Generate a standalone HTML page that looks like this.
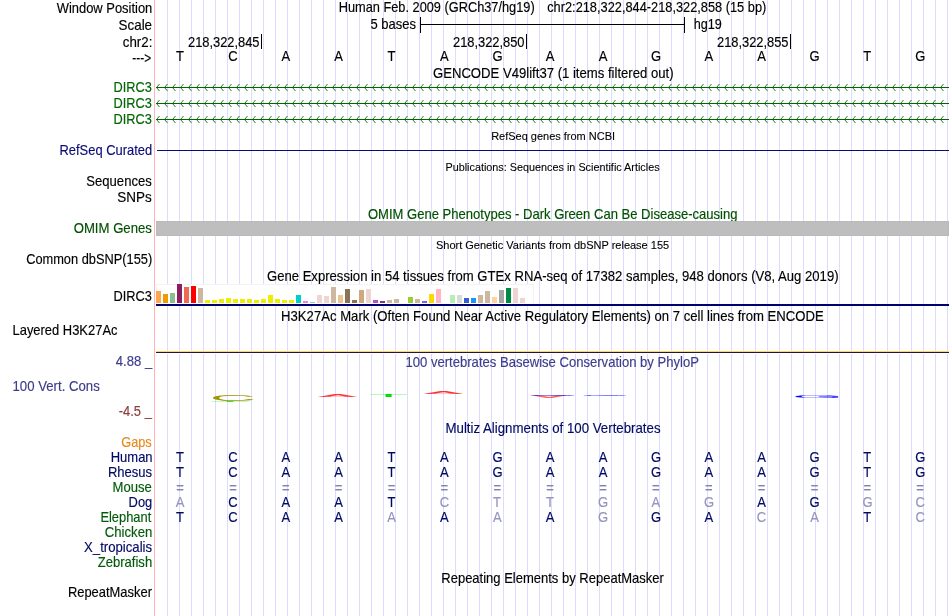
<!DOCTYPE html>
<html><head><meta charset="utf-8"><title>UCSC Genome Browser - hg19 chr2:218,322,844-218,322,858</title>
<style>html,body{margin:0;padding:0;background:#fff}svg{display:block}text{font-family:"Liberation Sans",sans-serif;font-size:14px;fill:#000;stroke:#000;stroke-width:.15px}.s{font-size:11px;stroke-width:.1px}.g{fill:#006400;stroke:#006400}.b{fill:#0c0c78;stroke:#0c0c78}.n{fill:#000a64;stroke:#000a64}.h{fill:#005a0a;stroke:#005a0a}.l{fill:#9494bf;stroke:#9494bf}.q{fill:#8484b0;stroke:#8484b0}.p{fill:#3c3c8c;stroke:#3c3c8c}.r{fill:#8c3c3c;stroke:#8c3c3c}.o{fill:#e68a1e;stroke:#e68a1e}.d{fill:#005000;stroke:#005000}.k{stroke:none}</style></head><body>
<svg width="950" height="616" viewBox="0 0 950 616" shape-rendering="crispEdges">
<rect width="950" height="616" fill="#fff"/>
<path d="M167.5 0V616M179.5 0V616M191.5 0V616M203.5 0V616M215.5 0V616M227.5 0V616M239.5 0V616M251.5 0V616M263.5 0V616M275.5 0V616M287.5 0V616M299.5 0V616M311.5 0V616M323.5 0V616M335.5 0V616M347.5 0V616M359.5 0V616M371.5 0V616M383.5 0V616M395.5 0V616M407.5 0V616M419.5 0V616M431.5 0V616M443.5 0V616M455.5 0V616M467.5 0V616M479.5 0V616M491.5 0V616M503.5 0V616M515.5 0V616M527.5 0V616M539.5 0V616M551.5 0V616M563.5 0V616M575.5 0V616M587.5 0V616M599.5 0V616M611.5 0V616M623.5 0V616M635.5 0V616M647.5 0V616M659.5 0V616M671.5 0V616M683.5 0V616M695.5 0V616M707.5 0V616M719.5 0V616M731.5 0V616M743.5 0V616M755.5 0V616M767.5 0V616M779.5 0V616M791.5 0V616M803.5 0V616M815.5 0V616M827.5 0V616M839.5 0V616M851.5 0V616M863.5 0V616M875.5 0V616M887.5 0V616M899.5 0V616M911.5 0V616M923.5 0V616M935.5 0V616M947.5 0V616" stroke="#dcdcff" stroke-width="1" fill="none"/>
<rect x="154" y="0" width="1" height="616" fill="#ffb4b4"/>
<rect x="156" y="353" width="793" height="1" fill="#fff"/>
<text transform="translate(56.69 12.9) scale(0.9251 1)">Window Position</text>
<text transform="translate(118.57 29.7) scale(0.9580 1)">Scale</text>
<text transform="translate(122.79 47.0) scale(0.9496 1)">chr2:</text>
<text transform="translate(132.33 62.8) scale(0.8553 1)">---&gt;</text>
<text transform="translate(338.71 12.0) scale(0.9136 1)">Human Feb. 2009 (GRCh37/hg19)</text>
<text transform="translate(547.20 12.0) scale(0.9143 1)">chr2:218,322,844-218,322,858 (15 bp)</text>
<text transform="translate(370.47 29.0) scale(0.9303 1)">5 bases</text>
<path d="M420.5 17V33M684.5 17V33M420 24.5H685" stroke="#000" fill="none"/>
<text transform="translate(693.70 29.0) scale(0.9034 1)">hg19</text>
<text transform="translate(187.98 47.0) scale(0.9198 1)">218,322,845</text>
<rect x="261" y="34" width="1" height="15" fill="#000"/>
<text transform="translate(452.98 47.0) scale(0.9198 1)">218,322,850</text>
<rect x="526" y="34" width="1" height="15" fill="#000"/>
<text transform="translate(716.98 47.0) scale(0.9198 1)">218,322,855</text>
<rect x="790" y="34" width="1" height="15" fill="#000"/>
<text transform="translate(175.92 61.1) scale(0.9300 1)">T</text>
<text transform="translate(228.24 61.1) scale(0.9300 1)">C</text>
<text transform="translate(281.46 61.1) scale(0.9300 1)">A</text>
<text transform="translate(334.36 61.1) scale(0.9300 1)">A</text>
<text transform="translate(387.42 61.1) scale(0.9300 1)">T</text>
<text transform="translate(440.06 61.1) scale(0.9300 1)">A</text>
<text transform="translate(492.42 61.1) scale(0.9300 1)">G</text>
<text transform="translate(545.86 61.1) scale(0.9300 1)">A</text>
<text transform="translate(598.66 61.1) scale(0.9300 1)">A</text>
<text transform="translate(651.02 61.1) scale(0.9300 1)">G</text>
<text transform="translate(704.46 61.1) scale(0.9300 1)">A</text>
<text transform="translate(757.26 61.1) scale(0.9300 1)">A</text>
<text transform="translate(809.62 61.1) scale(0.9300 1)">G</text>
<text transform="translate(863.22 61.1) scale(0.9300 1)">T</text>
<text transform="translate(915.32 61.1) scale(0.9300 1)">G</text>
<text transform="translate(432.95 77.9) scale(0.9378 1)">GENCODE V49lift37 (1 items filtered out)</text>
<text class="g" transform="translate(113.51 92.0) scale(0.9143 1)">DIRC3</text>
<path d="M156 87.5H949" stroke="#006400" fill="none"/>
<path d="M159.5 84L156.5 87.5L159.5 91M167.5 84L164.5 87.5L167.5 91M175.5 84L172.5 87.5L175.5 91M183.5 84L180.5 87.5L183.5 91M191.5 84L188.5 87.5L191.5 91M199.5 84L196.5 87.5L199.5 91M207.5 84L204.5 87.5L207.5 91M215.5 84L212.5 87.5L215.5 91M223.5 84L220.5 87.5L223.5 91M231.5 84L228.5 87.5L231.5 91M239.5 84L236.5 87.5L239.5 91M247.5 84L244.5 87.5L247.5 91M255.5 84L252.5 87.5L255.5 91M263.5 84L260.5 87.5L263.5 91M271.5 84L268.5 87.5L271.5 91M279.5 84L276.5 87.5L279.5 91M287.5 84L284.5 87.5L287.5 91M295.5 84L292.5 87.5L295.5 91M303.5 84L300.5 87.5L303.5 91M311.5 84L308.5 87.5L311.5 91M319.5 84L316.5 87.5L319.5 91M327.5 84L324.5 87.5L327.5 91M335.5 84L332.5 87.5L335.5 91M343.5 84L340.5 87.5L343.5 91M351.5 84L348.5 87.5L351.5 91M359.5 84L356.5 87.5L359.5 91M367.5 84L364.5 87.5L367.5 91M375.5 84L372.5 87.5L375.5 91M383.5 84L380.5 87.5L383.5 91M391.5 84L388.5 87.5L391.5 91M399.5 84L396.5 87.5L399.5 91M407.5 84L404.5 87.5L407.5 91M415.5 84L412.5 87.5L415.5 91M423.5 84L420.5 87.5L423.5 91M431.5 84L428.5 87.5L431.5 91M439.5 84L436.5 87.5L439.5 91M447.5 84L444.5 87.5L447.5 91M455.5 84L452.5 87.5L455.5 91M463.5 84L460.5 87.5L463.5 91M471.5 84L468.5 87.5L471.5 91M479.5 84L476.5 87.5L479.5 91M487.5 84L484.5 87.5L487.5 91M495.5 84L492.5 87.5L495.5 91M503.5 84L500.5 87.5L503.5 91M511.5 84L508.5 87.5L511.5 91M519.5 84L516.5 87.5L519.5 91M527.5 84L524.5 87.5L527.5 91M535.5 84L532.5 87.5L535.5 91M543.5 84L540.5 87.5L543.5 91M551.5 84L548.5 87.5L551.5 91M559.5 84L556.5 87.5L559.5 91M567.5 84L564.5 87.5L567.5 91M575.5 84L572.5 87.5L575.5 91M583.5 84L580.5 87.5L583.5 91M591.5 84L588.5 87.5L591.5 91M599.5 84L596.5 87.5L599.5 91M607.5 84L604.5 87.5L607.5 91M615.5 84L612.5 87.5L615.5 91M623.5 84L620.5 87.5L623.5 91M631.5 84L628.5 87.5L631.5 91M639.5 84L636.5 87.5L639.5 91M647.5 84L644.5 87.5L647.5 91M655.5 84L652.5 87.5L655.5 91M663.5 84L660.5 87.5L663.5 91M671.5 84L668.5 87.5L671.5 91M679.5 84L676.5 87.5L679.5 91M687.5 84L684.5 87.5L687.5 91M695.5 84L692.5 87.5L695.5 91M703.5 84L700.5 87.5L703.5 91M711.5 84L708.5 87.5L711.5 91M719.5 84L716.5 87.5L719.5 91M727.5 84L724.5 87.5L727.5 91M735.5 84L732.5 87.5L735.5 91M743.5 84L740.5 87.5L743.5 91M751.5 84L748.5 87.5L751.5 91M759.5 84L756.5 87.5L759.5 91M767.5 84L764.5 87.5L767.5 91M775.5 84L772.5 87.5L775.5 91M783.5 84L780.5 87.5L783.5 91M791.5 84L788.5 87.5L791.5 91M799.5 84L796.5 87.5L799.5 91M807.5 84L804.5 87.5L807.5 91M815.5 84L812.5 87.5L815.5 91M823.5 84L820.5 87.5L823.5 91M831.5 84L828.5 87.5L831.5 91M839.5 84L836.5 87.5L839.5 91M847.5 84L844.5 87.5L847.5 91M855.5 84L852.5 87.5L855.5 91M863.5 84L860.5 87.5L863.5 91M871.5 84L868.5 87.5L871.5 91M879.5 84L876.5 87.5L879.5 91M887.5 84L884.5 87.5L887.5 91M895.5 84L892.5 87.5L895.5 91M903.5 84L900.5 87.5L903.5 91M911.5 84L908.5 87.5L911.5 91M919.5 84L916.5 87.5L919.5 91M927.5 84L924.5 87.5L927.5 91M935.5 84L932.5 87.5L935.5 91M943.5 84L940.5 87.5L943.5 91" stroke="#006400" stroke-width=".85" fill="none" shape-rendering="geometricPrecision"/>
<text class="g" transform="translate(113.51 108.0) scale(0.9143 1)">DIRC3</text>
<path d="M156 103.5H949" stroke="#006400" fill="none"/>
<path d="M159.5 100L156.5 103.5L159.5 107M167.5 100L164.5 103.5L167.5 107M175.5 100L172.5 103.5L175.5 107M183.5 100L180.5 103.5L183.5 107M191.5 100L188.5 103.5L191.5 107M199.5 100L196.5 103.5L199.5 107M207.5 100L204.5 103.5L207.5 107M215.5 100L212.5 103.5L215.5 107M223.5 100L220.5 103.5L223.5 107M231.5 100L228.5 103.5L231.5 107M239.5 100L236.5 103.5L239.5 107M247.5 100L244.5 103.5L247.5 107M255.5 100L252.5 103.5L255.5 107M263.5 100L260.5 103.5L263.5 107M271.5 100L268.5 103.5L271.5 107M279.5 100L276.5 103.5L279.5 107M287.5 100L284.5 103.5L287.5 107M295.5 100L292.5 103.5L295.5 107M303.5 100L300.5 103.5L303.5 107M311.5 100L308.5 103.5L311.5 107M319.5 100L316.5 103.5L319.5 107M327.5 100L324.5 103.5L327.5 107M335.5 100L332.5 103.5L335.5 107M343.5 100L340.5 103.5L343.5 107M351.5 100L348.5 103.5L351.5 107M359.5 100L356.5 103.5L359.5 107M367.5 100L364.5 103.5L367.5 107M375.5 100L372.5 103.5L375.5 107M383.5 100L380.5 103.5L383.5 107M391.5 100L388.5 103.5L391.5 107M399.5 100L396.5 103.5L399.5 107M407.5 100L404.5 103.5L407.5 107M415.5 100L412.5 103.5L415.5 107M423.5 100L420.5 103.5L423.5 107M431.5 100L428.5 103.5L431.5 107M439.5 100L436.5 103.5L439.5 107M447.5 100L444.5 103.5L447.5 107M455.5 100L452.5 103.5L455.5 107M463.5 100L460.5 103.5L463.5 107M471.5 100L468.5 103.5L471.5 107M479.5 100L476.5 103.5L479.5 107M487.5 100L484.5 103.5L487.5 107M495.5 100L492.5 103.5L495.5 107M503.5 100L500.5 103.5L503.5 107M511.5 100L508.5 103.5L511.5 107M519.5 100L516.5 103.5L519.5 107M527.5 100L524.5 103.5L527.5 107M535.5 100L532.5 103.5L535.5 107M543.5 100L540.5 103.5L543.5 107M551.5 100L548.5 103.5L551.5 107M559.5 100L556.5 103.5L559.5 107M567.5 100L564.5 103.5L567.5 107M575.5 100L572.5 103.5L575.5 107M583.5 100L580.5 103.5L583.5 107M591.5 100L588.5 103.5L591.5 107M599.5 100L596.5 103.5L599.5 107M607.5 100L604.5 103.5L607.5 107M615.5 100L612.5 103.5L615.5 107M623.5 100L620.5 103.5L623.5 107M631.5 100L628.5 103.5L631.5 107M639.5 100L636.5 103.5L639.5 107M647.5 100L644.5 103.5L647.5 107M655.5 100L652.5 103.5L655.5 107M663.5 100L660.5 103.5L663.5 107M671.5 100L668.5 103.5L671.5 107M679.5 100L676.5 103.5L679.5 107M687.5 100L684.5 103.5L687.5 107M695.5 100L692.5 103.5L695.5 107M703.5 100L700.5 103.5L703.5 107M711.5 100L708.5 103.5L711.5 107M719.5 100L716.5 103.5L719.5 107M727.5 100L724.5 103.5L727.5 107M735.5 100L732.5 103.5L735.5 107M743.5 100L740.5 103.5L743.5 107M751.5 100L748.5 103.5L751.5 107M759.5 100L756.5 103.5L759.5 107M767.5 100L764.5 103.5L767.5 107M775.5 100L772.5 103.5L775.5 107M783.5 100L780.5 103.5L783.5 107M791.5 100L788.5 103.5L791.5 107M799.5 100L796.5 103.5L799.5 107M807.5 100L804.5 103.5L807.5 107M815.5 100L812.5 103.5L815.5 107M823.5 100L820.5 103.5L823.5 107M831.5 100L828.5 103.5L831.5 107M839.5 100L836.5 103.5L839.5 107M847.5 100L844.5 103.5L847.5 107M855.5 100L852.5 103.5L855.5 107M863.5 100L860.5 103.5L863.5 107M871.5 100L868.5 103.5L871.5 107M879.5 100L876.5 103.5L879.5 107M887.5 100L884.5 103.5L887.5 107M895.5 100L892.5 103.5L895.5 107M903.5 100L900.5 103.5L903.5 107M911.5 100L908.5 103.5L911.5 107M919.5 100L916.5 103.5L919.5 107M927.5 100L924.5 103.5L927.5 107M935.5 100L932.5 103.5L935.5 107M943.5 100L940.5 103.5L943.5 107" stroke="#006400" stroke-width=".85" fill="none" shape-rendering="geometricPrecision"/>
<text class="g" transform="translate(113.51 124.0) scale(0.9143 1)">DIRC3</text>
<path d="M156 119.5H949" stroke="#006400" fill="none"/>
<path d="M159.5 116L156.5 119.5L159.5 123M167.5 116L164.5 119.5L167.5 123M175.5 116L172.5 119.5L175.5 123M183.5 116L180.5 119.5L183.5 123M191.5 116L188.5 119.5L191.5 123M199.5 116L196.5 119.5L199.5 123M207.5 116L204.5 119.5L207.5 123M215.5 116L212.5 119.5L215.5 123M223.5 116L220.5 119.5L223.5 123M231.5 116L228.5 119.5L231.5 123M239.5 116L236.5 119.5L239.5 123M247.5 116L244.5 119.5L247.5 123M255.5 116L252.5 119.5L255.5 123M263.5 116L260.5 119.5L263.5 123M271.5 116L268.5 119.5L271.5 123M279.5 116L276.5 119.5L279.5 123M287.5 116L284.5 119.5L287.5 123M295.5 116L292.5 119.5L295.5 123M303.5 116L300.5 119.5L303.5 123M311.5 116L308.5 119.5L311.5 123M319.5 116L316.5 119.5L319.5 123M327.5 116L324.5 119.5L327.5 123M335.5 116L332.5 119.5L335.5 123M343.5 116L340.5 119.5L343.5 123M351.5 116L348.5 119.5L351.5 123M359.5 116L356.5 119.5L359.5 123M367.5 116L364.5 119.5L367.5 123M375.5 116L372.5 119.5L375.5 123M383.5 116L380.5 119.5L383.5 123M391.5 116L388.5 119.5L391.5 123M399.5 116L396.5 119.5L399.5 123M407.5 116L404.5 119.5L407.5 123M415.5 116L412.5 119.5L415.5 123M423.5 116L420.5 119.5L423.5 123M431.5 116L428.5 119.5L431.5 123M439.5 116L436.5 119.5L439.5 123M447.5 116L444.5 119.5L447.5 123M455.5 116L452.5 119.5L455.5 123M463.5 116L460.5 119.5L463.5 123M471.5 116L468.5 119.5L471.5 123M479.5 116L476.5 119.5L479.5 123M487.5 116L484.5 119.5L487.5 123M495.5 116L492.5 119.5L495.5 123M503.5 116L500.5 119.5L503.5 123M511.5 116L508.5 119.5L511.5 123M519.5 116L516.5 119.5L519.5 123M527.5 116L524.5 119.5L527.5 123M535.5 116L532.5 119.5L535.5 123M543.5 116L540.5 119.5L543.5 123M551.5 116L548.5 119.5L551.5 123M559.5 116L556.5 119.5L559.5 123M567.5 116L564.5 119.5L567.5 123M575.5 116L572.5 119.5L575.5 123M583.5 116L580.5 119.5L583.5 123M591.5 116L588.5 119.5L591.5 123M599.5 116L596.5 119.5L599.5 123M607.5 116L604.5 119.5L607.5 123M615.5 116L612.5 119.5L615.5 123M623.5 116L620.5 119.5L623.5 123M631.5 116L628.5 119.5L631.5 123M639.5 116L636.5 119.5L639.5 123M647.5 116L644.5 119.5L647.5 123M655.5 116L652.5 119.5L655.5 123M663.5 116L660.5 119.5L663.5 123M671.5 116L668.5 119.5L671.5 123M679.5 116L676.5 119.5L679.5 123M687.5 116L684.5 119.5L687.5 123M695.5 116L692.5 119.5L695.5 123M703.5 116L700.5 119.5L703.5 123M711.5 116L708.5 119.5L711.5 123M719.5 116L716.5 119.5L719.5 123M727.5 116L724.5 119.5L727.5 123M735.5 116L732.5 119.5L735.5 123M743.5 116L740.5 119.5L743.5 123M751.5 116L748.5 119.5L751.5 123M759.5 116L756.5 119.5L759.5 123M767.5 116L764.5 119.5L767.5 123M775.5 116L772.5 119.5L775.5 123M783.5 116L780.5 119.5L783.5 123M791.5 116L788.5 119.5L791.5 123M799.5 116L796.5 119.5L799.5 123M807.5 116L804.5 119.5L807.5 123M815.5 116L812.5 119.5L815.5 123M823.5 116L820.5 119.5L823.5 123M831.5 116L828.5 119.5L831.5 123M839.5 116L836.5 119.5L839.5 123M847.5 116L844.5 119.5L847.5 123M855.5 116L852.5 119.5L855.5 123M863.5 116L860.5 119.5L863.5 123M871.5 116L868.5 119.5L871.5 123M879.5 116L876.5 119.5L879.5 123M887.5 116L884.5 119.5L887.5 123M895.5 116L892.5 119.5L895.5 123M903.5 116L900.5 119.5L903.5 123M911.5 116L908.5 119.5L911.5 123M919.5 116L916.5 119.5L919.5 123M927.5 116L924.5 119.5L927.5 123M935.5 116L932.5 119.5L935.5 123M943.5 116L940.5 119.5L943.5 123" stroke="#006400" stroke-width=".85" fill="none" shape-rendering="geometricPrecision"/>
<text class="s" transform="translate(491.15 139.9) scale(0.9993 1)">RefSeq genes from NCBI</text>
<text class="b" transform="translate(59.49 155.0) scale(0.9240 1)">RefSeq Curated</text>
<rect x="157" y="150" width="792" height="1" fill="#0c0c78"/>
<text class="s" transform="translate(445.41 170.9) scale(0.9850 1)">Publications: Sequences in Scientific Articles</text>
<text transform="translate(86.29 186.0) scale(0.9352 1)">Sequences</text>
<text transform="translate(117.16 202.0) scale(0.9644 1)">SNPs</text>
<text class="d" transform="translate(367.97 218.9) scale(0.9323 1)">OMIM Gene Phenotypes - Dark Green Can Be Disease-causing</text>
<text class="d" transform="translate(73.67 233.0) scale(0.9407 1)">OMIM Genes</text>
<rect x="156" y="221" width="793" height="15" fill="#bababa"/><rect x="157" y="222" width="791" height="13" fill="#bebebe"/>
<text class="s" transform="translate(435.96 248.9) scale(1.0002 1)">Short Genetic Variants from dbSNP release 155</text>
<text transform="translate(26.15 264.0) scale(0.9166 1)">Common dbSNP(155)</text>
<text transform="translate(266.95 280.5) scale(0.9370 1)">Gene Expression in 54 tissues from GTEx RNA-seq of 17382 samples, 948 donors (V8, Aug 2019)</text>
<text transform="translate(113.51 301.0) scale(0.9143 1)">DIRC3</text>
<rect x="156" y="284" width="378" height="20" fill="#fff"/>
<path d="M156.5 303V284.5H533.5V303" stroke="#f3f3f3" fill="none"/>
<rect x="156" y="291" width="5" height="12" fill="#FFA54F"/>
<rect x="163" y="294" width="5" height="9" fill="#EE9A00"/>
<rect x="170" y="293" width="5" height="10" fill="#8FBC8F"/>
<rect x="177" y="284" width="5" height="19" fill="#8B1C62"/>
<rect x="184" y="287" width="5" height="16" fill="#EE6A50"/>
<rect x="191" y="286" width="5" height="17" fill="#FF0000"/>
<rect x="198" y="288" width="5" height="15" fill="#CDB79E"/>
<rect x="205" y="300" width="5" height="3" fill="#EEEE00"/>
<rect x="212" y="300" width="5" height="3" fill="#EEEE00"/>
<rect x="219" y="299" width="5" height="4" fill="#EEEE00"/>
<rect x="226" y="298" width="5" height="5" fill="#EEEE00"/>
<rect x="233" y="299" width="5" height="4" fill="#EEEE00"/>
<rect x="240" y="299" width="5" height="4" fill="#EEEE00"/>
<rect x="247" y="299" width="5" height="4" fill="#EEEE00"/>
<rect x="254" y="300" width="5" height="3" fill="#EEEE00"/>
<rect x="261" y="299" width="5" height="4" fill="#EEEE00"/>
<rect x="268" y="295" width="5" height="8" fill="#EEEE00"/>
<rect x="275" y="299" width="5" height="4" fill="#EEEE00"/>
<rect x="282" y="300" width="5" height="3" fill="#EEEE00"/>
<rect x="289" y="300" width="5" height="3" fill="#EEEE00"/>
<rect x="296" y="295" width="5" height="8" fill="#00CDCD"/>
<rect x="303" y="301" width="5" height="2" fill="#EE82EE"/>
<rect x="310" y="302" width="5" height="1" fill="#9AC0CD"/>
<rect x="317" y="295" width="5" height="8" fill="#EED5D2"/>
<rect x="324" y="296" width="5" height="7" fill="#EED5D2"/>
<rect x="331" y="287" width="5" height="16" fill="#CDB79E"/>
<rect x="338" y="295" width="5" height="8" fill="#EEC591"/>
<rect x="345" y="289" width="5" height="14" fill="#8B7355"/>
<rect x="352" y="300" width="5" height="3" fill="#8B7355"/>
<rect x="359" y="290" width="5" height="13" fill="#CDAA7D"/>
<rect x="366" y="289" width="5" height="14" fill="#EED5D2"/>
<rect x="373" y="300" width="5" height="3" fill="#B452CD"/>
<rect x="380" y="301" width="5" height="2" fill="#7A378B"/>
<rect x="387" y="300" width="5" height="3" fill="#CDB79E"/>
<rect x="394" y="299" width="5" height="4" fill="#CDB79E"/>
<rect x="408" y="297" width="5" height="6" fill="#9ACD32"/>
<rect x="415" y="299" width="5" height="4" fill="#CDB79E"/>
<rect x="422" y="301" width="5" height="2" fill="#7A67EE"/>
<rect x="429" y="294" width="5" height="9" fill="#FFD700"/>
<rect x="436" y="289" width="5" height="14" fill="#FFB6C1"/>
<rect x="450" y="295" width="5" height="8" fill="#B4EEB4"/>
<rect x="457" y="295" width="5" height="8" fill="#D9D9D9"/>
<rect x="464" y="298" width="5" height="5" fill="#3A5FCD"/>
<rect x="471" y="298" width="5" height="5" fill="#1E90FF"/>
<rect x="478" y="295" width="5" height="8" fill="#CDB79E"/>
<rect x="485" y="291" width="5" height="12" fill="#CDB79E"/>
<rect x="492" y="297" width="5" height="6" fill="#FFD39B"/>
<rect x="499" y="290" width="5" height="13" fill="#A6A6A6"/>
<rect x="506" y="288" width="5" height="15" fill="#008B45"/>
<rect x="513" y="288" width="5" height="15" fill="#EED5D2"/>
<rect x="520" y="298" width="5" height="5" fill="#EED5D2"/>
<rect x="156" y="304" width="793" height="2" fill="#00006e"/>
<text transform="translate(281.08 321.0) scale(0.9380 1)">H3K27Ac Mark (Often Found Near Active Regulatory Elements) on 7 cell lines from ENCODE</text>
<text transform="translate(12.49 335.0) scale(0.9252 1)">Layered H3K27Ac</text>
<rect x="156" y="351" width="793" height="1" fill="#ffd264"/>
<rect x="156" y="352" width="793" height="1" fill="#2a1436"/>
<text class="p" transform="translate(405.53 366.6) scale(0.9344 1)">100 vertebrates Basewise Conservation by PhyloP</text>
<text class="p" transform="translate(115.84 366.0) scale(0.9333 1)">4.88 _</text>
<text class="p" transform="translate(12.52 391.0) scale(0.9424 1)">100 Vert. Cons</text>
<text class="r" transform="translate(118.71 416.0) scale(0.9267 1)">-4.5 _</text>
<text class="k" transform="translate(210.06 402.20) scale(1.6372 0.0435)" style="font-size:40px;fill:#00e000" fill-opacity="0.8" shape-rendering="geometricPrecision">T</text>
<text class="k" transform="translate(209.78 400.91) scale(1.6111 0.2254)" style="font-size:40px;fill:#a09600" shape-rendering="geometricPrecision">C</text>
<text class="k" transform="translate(317.70 397.00) scale(1.4924 0.0693)" style="font-size:40px;fill:#ff0000" fill-opacity="0.8" shape-rendering="geometricPrecision">A</text>
<text class="k" transform="translate(368.88 397.00) scale(1.6150 0.0797)" style="font-size:40px;fill:#00e000" shape-rendering="geometricPrecision">T</text>
<text class="k" transform="translate(423.20 394.00) scale(1.5076 0.0693)" style="font-size:40px;fill:#ff0000" fill-opacity="0.8" shape-rendering="geometricPrecision">A</text>
<text class="k" transform="translate(529.71 395.30) scale(1.4621 -0.0693)" style="font-size:40px;fill:#ff0000" fill-opacity="0.6" shape-rendering="geometricPrecision">A</text>
<text class="k" transform="translate(528.15 395.98) scale(1.6260 0.0423)" style="font-size:40px;fill:#0000ff" shape-rendering="geometricPrecision">G</text>
<text class="k" transform="translate(580.58 395.98) scale(1.6107 0.0423)" style="font-size:40px;fill:#0000ff" shape-rendering="geometricPrecision">G</text>
<text class="k" transform="translate(791.93 397.86) scale(1.6374 0.1021)" style="font-size:40px;fill:#0000ff" shape-rendering="geometricPrecision">G</text>
<text class="n" transform="translate(445.47 433.0) scale(0.9470 1)">Multiz Alignments of 100 Vertebrates</text>
<text class="o" transform="translate(121.26 446.9) scale(0.9111 1)">Gaps</text>
<text class="n" transform="translate(110.69 462.0) scale(0.9298 1)">Human</text>
<text class="n" transform="translate(175.92 462.0) scale(0.9300 1)">T</text>
<text class="n" transform="translate(228.24 462.0) scale(0.9300 1)">C</text>
<text class="n" transform="translate(281.46 462.0) scale(0.9300 1)">A</text>
<text class="n" transform="translate(334.36 462.0) scale(0.9300 1)">A</text>
<text class="n" transform="translate(387.42 462.0) scale(0.9300 1)">T</text>
<text class="n" transform="translate(440.06 462.0) scale(0.9300 1)">A</text>
<text class="n" transform="translate(492.42 462.0) scale(0.9300 1)">G</text>
<text class="n" transform="translate(545.86 462.0) scale(0.9300 1)">A</text>
<text class="n" transform="translate(598.66 462.0) scale(0.9300 1)">A</text>
<text class="n" transform="translate(651.02 462.0) scale(0.9300 1)">G</text>
<text class="n" transform="translate(704.46 462.0) scale(0.9300 1)">A</text>
<text class="n" transform="translate(757.26 462.0) scale(0.9300 1)">A</text>
<text class="n" transform="translate(809.62 462.0) scale(0.9300 1)">G</text>
<text class="n" transform="translate(863.22 462.0) scale(0.9300 1)">T</text>
<text class="n" transform="translate(915.32 462.0) scale(0.9300 1)">G</text>
<text class="n" transform="translate(107.89 477.0) scale(0.9306 1)">Rhesus</text>
<text class="n" transform="translate(175.92 477.0) scale(0.9300 1)">T</text>
<text class="n" transform="translate(228.24 477.0) scale(0.9300 1)">C</text>
<text class="n" transform="translate(281.46 477.0) scale(0.9300 1)">A</text>
<text class="n" transform="translate(334.36 477.0) scale(0.9300 1)">A</text>
<text class="n" transform="translate(387.42 477.0) scale(0.9300 1)">T</text>
<text class="n" transform="translate(440.06 477.0) scale(0.9300 1)">A</text>
<text class="n" transform="translate(492.42 477.0) scale(0.9300 1)">G</text>
<text class="n" transform="translate(545.86 477.0) scale(0.9300 1)">A</text>
<text class="n" transform="translate(598.66 477.0) scale(0.9300 1)">A</text>
<text class="n" transform="translate(651.02 477.0) scale(0.9300 1)">G</text>
<text class="n" transform="translate(704.46 477.0) scale(0.9300 1)">A</text>
<text class="n" transform="translate(757.26 477.0) scale(0.9300 1)">A</text>
<text class="n" transform="translate(809.62 477.0) scale(0.9300 1)">G</text>
<text class="n" transform="translate(863.22 477.0) scale(0.9300 1)">T</text>
<text class="n" transform="translate(915.32 477.0) scale(0.9300 1)">G</text>
<text class="h" transform="translate(112.58 492.0) scale(0.9360 1)">Mouse</text>
<text class="q" transform="translate(176.24 493.0) scale(0.9300 1)">=</text>
<text class="q" transform="translate(229.14 493.0) scale(0.9300 1)">=</text>
<text class="q" transform="translate(281.94 493.0) scale(0.9300 1)">=</text>
<text class="q" transform="translate(334.84 493.0) scale(0.9300 1)">=</text>
<text class="q" transform="translate(387.74 493.0) scale(0.9300 1)">=</text>
<text class="q" transform="translate(440.54 493.0) scale(0.9300 1)">=</text>
<text class="q" transform="translate(493.44 493.0) scale(0.9300 1)">=</text>
<text class="q" transform="translate(546.34 493.0) scale(0.9300 1)">=</text>
<text class="q" transform="translate(599.14 493.0) scale(0.9300 1)">=</text>
<text class="q" transform="translate(652.04 493.0) scale(0.9300 1)">=</text>
<text class="q" transform="translate(704.94 493.0) scale(0.9300 1)">=</text>
<text class="q" transform="translate(757.74 493.0) scale(0.9300 1)">=</text>
<text class="q" transform="translate(810.64 493.0) scale(0.9300 1)">=</text>
<text class="q" transform="translate(863.54 493.0) scale(0.9300 1)">=</text>
<text class="q" transform="translate(916.34 493.0) scale(0.9300 1)">=</text>
<text class="n" transform="translate(128.60 507.0) scale(0.9233 1)">Dog</text>
<text class="l" transform="translate(175.76 507.0) scale(0.9300 1)">A</text>
<text class="n" transform="translate(228.24 507.0) scale(0.9300 1)">C</text>
<text class="n" transform="translate(281.46 507.0) scale(0.9300 1)">A</text>
<text class="n" transform="translate(334.36 507.0) scale(0.9300 1)">A</text>
<text class="n" transform="translate(387.42 507.0) scale(0.9300 1)">T</text>
<text class="l" transform="translate(439.64 507.0) scale(0.9300 1)">C</text>
<text class="l" transform="translate(493.12 507.0) scale(0.9300 1)">T</text>
<text class="l" transform="translate(546.02 507.0) scale(0.9300 1)">T</text>
<text class="l" transform="translate(598.12 507.0) scale(0.9300 1)">G</text>
<text class="l" transform="translate(651.56 507.0) scale(0.9300 1)">A</text>
<text class="l" transform="translate(703.92 507.0) scale(0.9300 1)">G</text>
<text class="n" transform="translate(757.26 507.0) scale(0.9300 1)">A</text>
<text class="n" transform="translate(809.62 507.0) scale(0.9300 1)">G</text>
<text class="l" transform="translate(862.52 507.0) scale(0.9300 1)">G</text>
<text class="l" transform="translate(915.44 507.0) scale(0.9300 1)">C</text>
<text class="h" transform="translate(100.40 522.0) scale(0.9207 1)">Elephant</text>
<text class="n" transform="translate(175.92 522.0) scale(0.9300 1)">T</text>
<text class="n" transform="translate(228.24 522.0) scale(0.9300 1)">C</text>
<text class="n" transform="translate(281.46 522.0) scale(0.9300 1)">A</text>
<text class="n" transform="translate(334.36 522.0) scale(0.9300 1)">A</text>
<text class="l" transform="translate(387.26 522.0) scale(0.9300 1)">A</text>
<text class="n" transform="translate(440.06 522.0) scale(0.9300 1)">A</text>
<text class="l" transform="translate(492.96 522.0) scale(0.9300 1)">A</text>
<text class="n" transform="translate(545.86 522.0) scale(0.9300 1)">A</text>
<text class="l" transform="translate(598.12 522.0) scale(0.9300 1)">G</text>
<text class="n" transform="translate(651.02 522.0) scale(0.9300 1)">G</text>
<text class="n" transform="translate(704.46 522.0) scale(0.9300 1)">A</text>
<text class="l" transform="translate(756.84 522.0) scale(0.9300 1)">C</text>
<text class="l" transform="translate(810.16 522.0) scale(0.9300 1)">A</text>
<text class="n" transform="translate(863.22 522.0) scale(0.9300 1)">T</text>
<text class="l" transform="translate(915.44 522.0) scale(0.9300 1)">C</text>
<text class="h" transform="translate(104.84 537.0) scale(0.9388 1)">Chicken</text>
<text class="n" transform="translate(84.08 552.0) scale(0.9397 1)">X_tropicalis</text>
<text class="h" transform="translate(97.79 567.0) scale(0.9328 1)">Zebrafish</text>
<text transform="translate(441.29 582.8) scale(0.9299 1)">Repeating Elements by RepeatMasker</text>
<text transform="translate(67.89 597.0) scale(0.9247 1)">RepeatMasker</text>
</svg></body></html>
